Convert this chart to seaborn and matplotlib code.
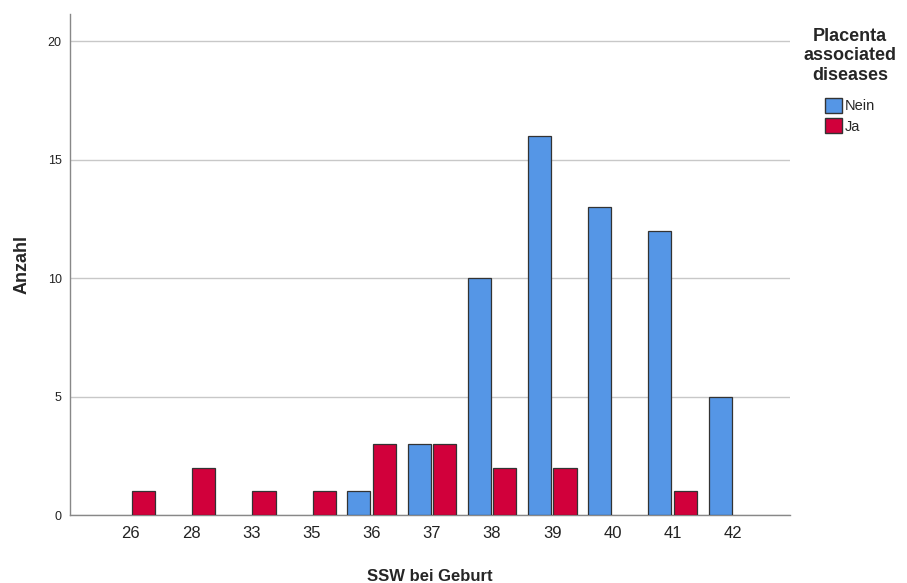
import numpy as np
import pandas as pd
import seaborn as sns
import matplotlib.pyplot as plt
from matplotlib.patches import Patch

sns.set_theme(style="white")
plt.rcParams['font.family'] = ['Liberation Sans', 'DejaVu Sans']

weeks = ['26', '28', '33', '35', '36', '37', '38', '39', '40', '41', '42']
groups = ['Nein', 'Ja']
nein_weeks = ['36', '37', '38', '39', '40', '41', '42']
nein_counts = [1, 3, 10, 16, 13, 12, 5]
ja_weeks = ['26', '28', '33', '35', '36', '37', '38', '39', '41']
ja_counts = [1, 2, 1, 1, 3, 3, 2, 2, 1]
colors = {'Nein': '#5596E6', 'Ja': '#D1003B'}

df = pd.concat([
    pd.DataFrame({'SSW': nein_weeks, 'Anzahl': nein_counts, 'PAD': 'Nein'}),
    pd.DataFrame({'SSW': ja_weeks, 'Anzahl': ja_counts, 'PAD': 'Ja'}),
])

fig = plt.figure(figsize=(9.07, 5.83), dpi=100)
ax = fig.add_axes([0.0772, 0.1166, 0.7938, 0.8594])

sns.barplot(data=df, x='SSW', y='Anzahl', hue='PAD', order=weeks, hue_order=groups,
            palette=colors, saturation=1, width=0.85, gap=0.1, edgecolor='#333333',
            linewidth=0.9, legend=False, ax=ax, zorder=3)

ax.set_xlim(-1.01, 10.95)
ax.set_ylim(0, 21.14)
ax.set_yticks([0, 5, 10, 15, 20])
ax.yaxis.grid(True, color='#c8c8c8', linewidth=1.0, zorder=0)
ax.set_axisbelow(True)
for s in ['top', 'right']:
    ax.spines[s].set_visible(False)
for s in ['left', 'bottom']:
    ax.spines[s].set_color('#888888')
    ax.spines[s].set_linewidth(1.0)
ax.tick_params(axis='y', labelsize=9, length=0, pad=6, colors='#222222')
ax.tick_params(axis='x', labelsize=12, length=0, pad=8, colors='#222222')
ax.set_xlabel('SSW bei Geburt', fontsize=12, fontweight='bold', labelpad=20)
ax.set_ylabel('Anzahl', fontsize=13, fontweight='bold', labelpad=12)

handles = [Patch(facecolor=colors[g], edgecolor='#333333', label=g) for g in groups]
leg = fig.legend(handles=handles, title='Placenta\nassociated\ndiseases',
                 loc='upper center', bbox_to_anchor=(0.937, 0.975), frameon=False,
                 fontsize=10.5, handlelength=1.2, handleheight=1.2, handletextpad=0.2,
                 labelspacing=0.35)
leg.get_title().set_fontweight('bold')
leg.get_title().set_fontsize(13)
leg.get_title().set_multialignment('center')
leg._legend_box.sep = 10

fig.savefig('out.png', dpi=100)
